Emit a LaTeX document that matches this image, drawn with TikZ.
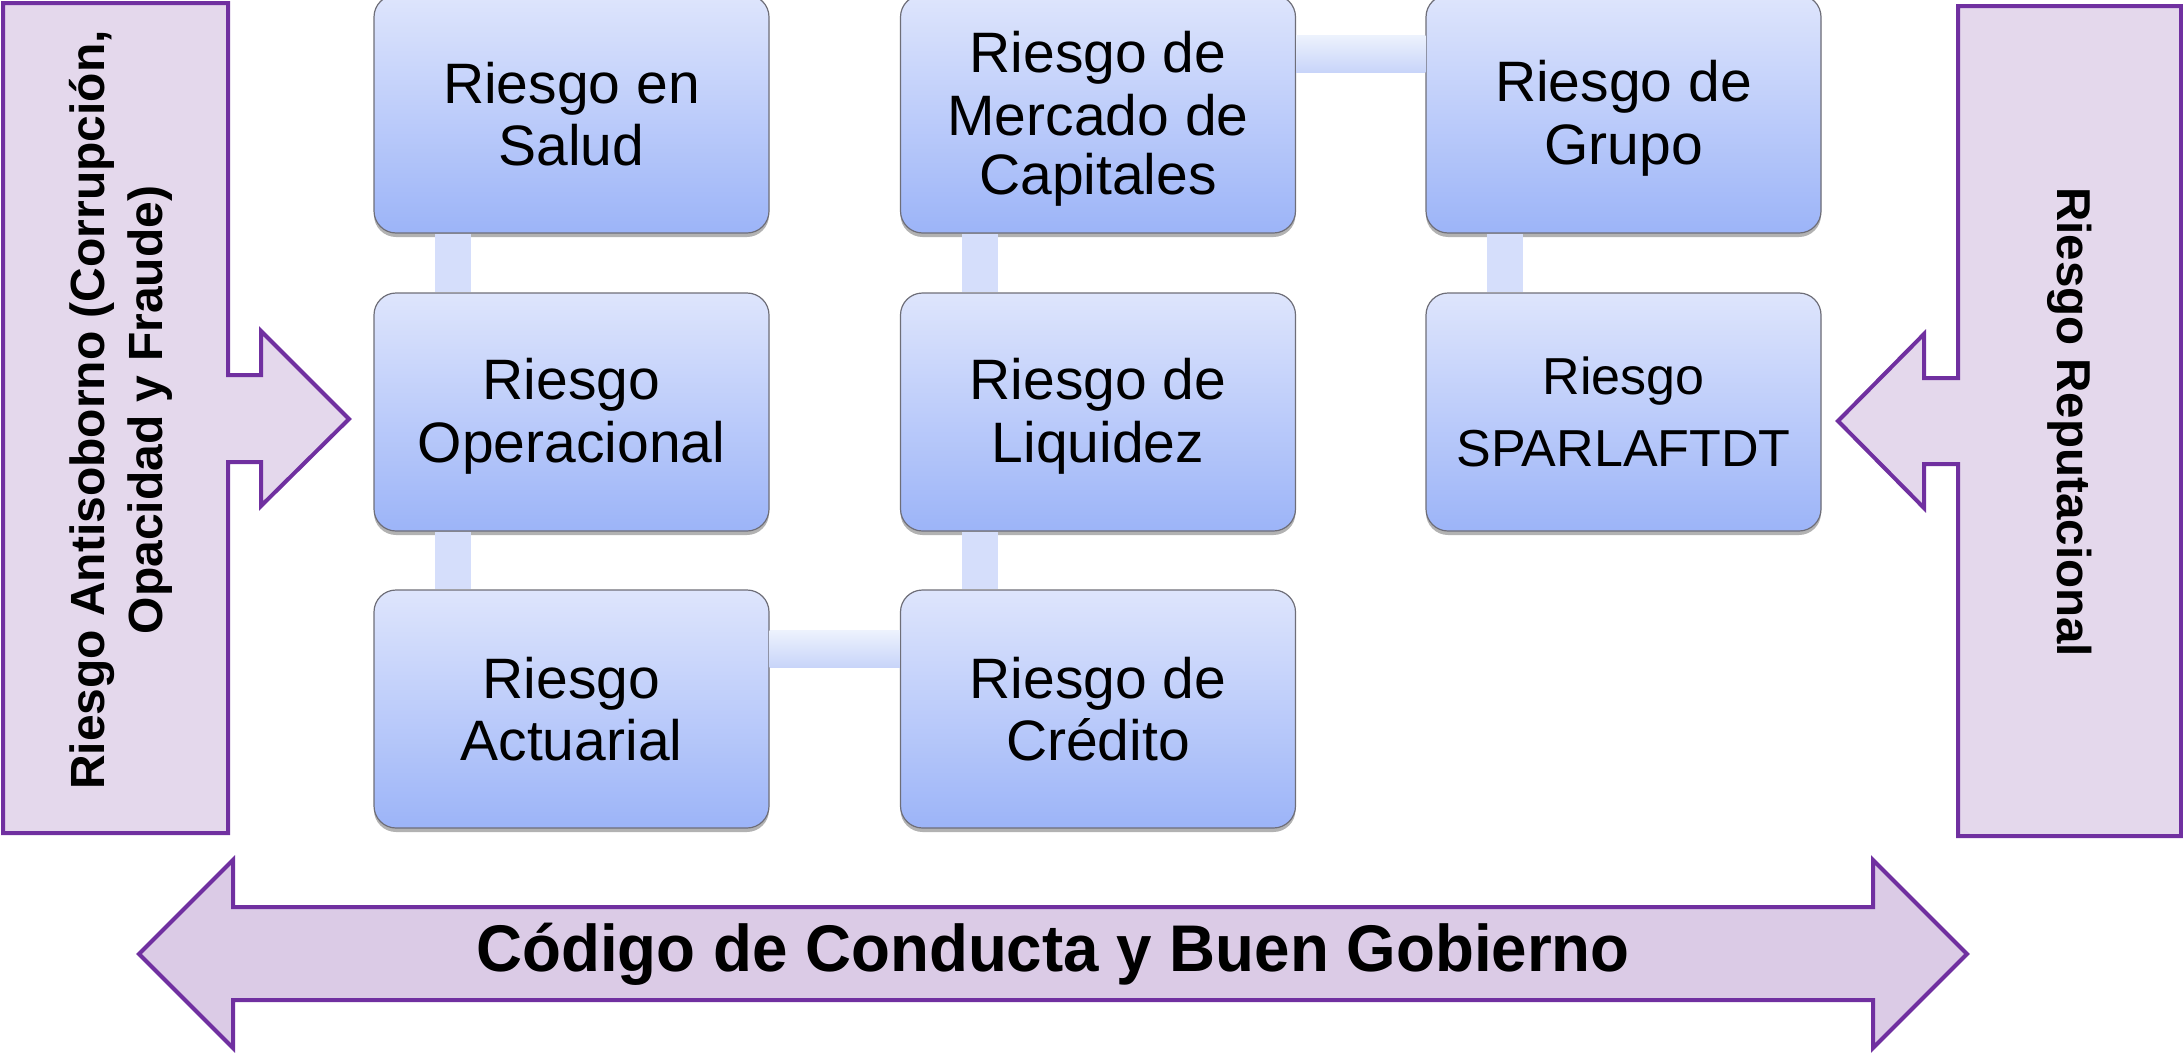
\documentclass[tikz,border=0pt]{standalone}
\usepackage{fontspec}
\usepackage{graphicx}
\setmainfont{Liberation Sans}
\usetikzlibrary{shadows,calc}
\definecolor{boxtop}{RGB}{222,229,252}
\definecolor{boxbot}{RGB}{156,180,248}
\definecolor{boxline}{RGB}{110,110,120}
\definecolor{connc}{RGB}{213,222,251}
\definecolor{conntop}{RGB}{237,242,253}
\definecolor{connbot}{RGB}{200,212,249}
\definecolor{purp}{RGB}{112,48,160}
\definecolor{callfill}{RGB}{228,216,236}
\definecolor{arrfill}{RGB}{219,203,230}
\newcommand{\lnA}{\rule[-9pt]{0pt}{59pt}}
\newcommand{\lnB}{\rule[-17.4pt]{0pt}{72pt}}
\begin{document}
\begin{tikzpicture}[x=1pt,y=1pt,
  riskbox/.style={rectangle, rounded corners=22pt, minimum width=395pt, minimum height=238pt,
    draw=boxline, line width=1.2pt, top color=boxtop, bottom color=boxbot, align=center,
    inner sep=0pt, font=\fontsize{57}{59}\selectfont,
    drop shadow={shadow xshift=0pt, shadow yshift=-4pt, opacity=0.3, fill=black}},
  vconn/.style={fill=connc},
  hconn/.style={top color=conntop, bottom color=connbot, draw=none},
  callout/.style={draw=purp, line width=4pt, fill=callfill, line join=miter},
  bigarrow/.style={draw=purp, line width=4pt, fill=arrfill, line join=miter},
  calltext/.style={font=\bfseries\fontsize{48}{58}\selectfont, align=center, inner sep=0pt}
]
\useasboundingbox (0,0) rectangle (2183,-1052);

% left callout
\draw[callout] (3,-3) -- (228,-3) -- (228,-375) -- (261,-375) -- (261,-331) -- (349,-419)
  -- (261,-506) -- (261,-462) -- (228,-462) -- (228,-833) -- (3,-833) -- cycle;
% right callout
\draw[callout] (2181,-6) -- (1958,-6) -- (1958,-378) -- (1924,-378) -- (1924,-334) -- (1838,-421)
  -- (1924,-508) -- (1924,-464) -- (1958,-464) -- (1958,-836) -- (2181,-836) -- cycle;
% bottom double arrow
\draw[bigarrow] (139,-954) -- (233,-860) -- (233,-907) -- (1873,-907) -- (1873,-860) -- (1967,-954)
  -- (1873,-1048) -- (1873,-1000) -- (233,-1000) -- (233,-1048) -- cycle;

\node[calltext, rotate=90] (anti) at (121,-410) {Riesgo Antisoborno (Corrupción,\\Opacidad y Fraude)};
\node[calltext, font=\bfseries\fontsize{47.5}{58}\selectfont, rotate=-90] (repu) at (2070,-422) {Riesgo Reputacional};
\node[font=\bfseries\fontsize{66}{66}\selectfont, inner sep=0pt] (codigo) at (1053,-954)
  {\scalebox{0.965}[1]{Código de Conducta y Buen Gobierno}};

% boxes
\node[riskbox] (salud) at (571.5,-114) {\lnA Riesgo en\\\lnA Salud};
\node[riskbox] (oper) at (571.5,-412) {\lnA Riesgo\\\lnA Operacional};
\node[riskbox] (act) at (571.5,-709) {\lnA Riesgo\\\lnA Actuarial};
\node[riskbox] (merc) at (1098,-114) {\lnA Riesgo de\\\lnA Mercado de\\\lnA Capitales};
\node[riskbox] (liq) at (1098,-412) {\lnA Riesgo de\\\lnA Liquidez};
\node[riskbox] (cred) at (1098,-709) {\lnA Riesgo de\\\lnA Crédito};
\node[riskbox] (grupo) at (1623.5,-114) {\lnA Riesgo de\\\lnA Grupo};
\node[riskbox, font=\fontsize{52}{72}\selectfont] (spar) at (1623.5,-412) {\lnB Riesgo\\\lnB SPARLAFTDT};

% connectors
\fill[vconn] ($(salud.south west)+(62,0)$) rectangle ($(oper.north west)+(98,0)$);
\fill[vconn] ($(oper.south west)+(62,0)$) rectangle ($(act.north west)+(98,0)$);
\shade[hconn] ($(act.north east)+(0,-41)$) rectangle ($(cred.north west)+(0,-78)$);
\fill[vconn] ($(cred.north west)+(62,0)$) rectangle ($(liq.south west)+(98,0)$);
\fill[vconn] ($(liq.north west)+(62,0)$) rectangle ($(merc.south west)+(98,0)$);
\shade[hconn] ($(merc.north east)+(0,-41)$) rectangle ($(grupo.north west)+(0,-78)$);
\fill[vconn] ($(grupo.south west)+(62,0)$) rectangle ($(spar.north west)+(98,0)$);
\end{tikzpicture}
\end{document}
